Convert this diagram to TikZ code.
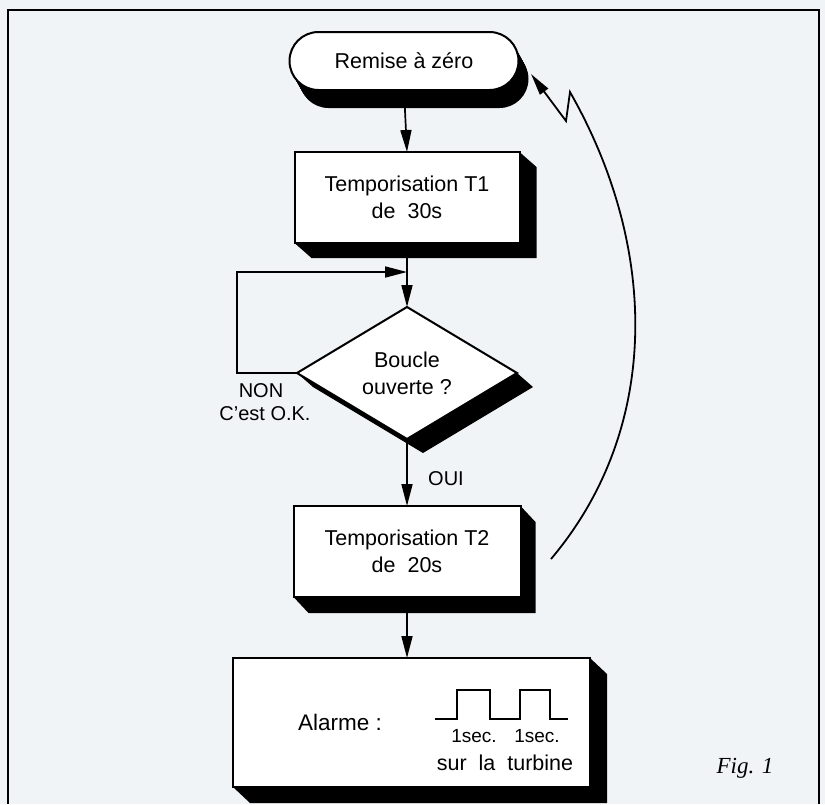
\documentclass[tikz,border=0pt]{standalone}
\usepackage{fontspec}
\setmainfont{Liberation Sans}
\newfontfamily\figfont{Liberation Serif}
\usetikzlibrary{shapes.geometric,arrows.meta,calc,backgrounds}
\definecolor{paper}{RGB}{241,244,246}
\newcommand\boxshade[3]{%
  \fill (#1.north east) -- ($(#1.north east)+(#2,#3)$) -- ($(#1.south east)+(#2,#3)$)
    -- ($(#1.south west)+(#2,#3)$) -- (#1.south west) -- (#1.south east) -- cycle;}
\begin{document}
\begin{tikzpicture}[x=1pt,y=-1pt,
  txt/.style={font=\fontsize{21.5}{27}\selectfont, align=center, inner sep=0pt},
  small/.style={font=\fontsize{20}{24}\selectfont, align=center, inner sep=0pt},
  box/.style={draw, line width=2pt, fill=white, inner sep=0pt, outer sep=0pt,
    font=\fontsize{21.5}{27}\selectfont, align=center},
  arr/.style={line width=1.7pt, -{Triangle[length=22pt,width=11pt]}},
  pulse/.style={line width=1.3pt}
]
\useasboundingbox (0,0) rectangle (825,804);

% nodes
\node[box, rounded corners=29pt, minimum width=229pt, minimum height=58pt] (t) at (404,61) {Remise à zéro};
\node[box, minimum width=225pt, minimum height=91pt] (b1) at (407,197.5) {Temporisation T1\\de~ 30s};
\node[box, diamond, aspect=1.67, minimum width=220pt, minimum height=132pt] (d) at (407,373) {Boucle\\ouverte ?};
\node[box, minimum width=227pt, minimum height=91pt] (b2) at (407,551.5) {Temporisation T2\\de~ 20s};
\node[box, minimum width=357pt, minimum height=129pt] (b3) at (411.5,722.5) {};

% shadows and paper
\begin{scope}[on background layer]
  \fill[paper] (0,0) rectangle (825,804);
  \foreach \k in {0,1,...,18}
    \fill[rounded corners=29pt] ($(t.south west)+(\k*10/18,\k)$) rectangle ($(t.north east)+(\k*10/18,\k)$);
  \boxshade{b1}{17}{15}
  \boxshade{b2}{15}{16}
  \boxshade{b3}{17}{16}
  \fill (d.west) -- ($(d.west)+(16,14)$) -- ($(d.south)+(16,14)$) -- ($(d.east)+(16,14)$)
    -- (d.east) -- (d.south) -- cycle;
\end{scope}

% frame
\draw[line width=2pt] (8,804) -- (8,10) -- (819,10) -- (819,804);

% connectors
\coordinate (j) at (407,272);
\draw[arr] (t.south) -- (b1.north);
\draw[arr] (b1.south) -- (d.north);
\draw[arr] (d.west) -- ++(-60,0) |- (j);
\draw[arr] (d.south) -- (b2.north);
\draw[arr] (b2.south) -- (b2.south |- b3.north);

\coordinate (cs) at (551,559);
\coordinate (ce) at (531,74);
\draw[line width=1.8pt, -{Triangle[length=22pt,width=10pt]}]
  (cs) .. controls (660,430) and (660,250) .. (570,92) -- (566,121) -- (ce);

% labels
\node[small] (non) at (261,391) {NON};
\node[small] (ok) at (265,414) {C’est O.K.};
\node[small] (oui) at (446,479) {OUI};

% alarm contents
\node[font=\fontsize{22.5}{27}\selectfont, inner sep=0pt] (al) at (340,722) {Alarme :};
\draw[pulse] (435,719) -- (457,719) -- (457,690) -- (490,690) -- (490,719)
  -- (520,719) -- (520,690) -- (550,690) -- (550,719) -- (568,719);
\node[font=\fontsize{19}{22}\selectfont, inner sep=0pt] (s1) at (474,736) {1sec.};
\node[font=\fontsize{19}{22}\selectfont, inner sep=0pt] (s2) at (537,736) {1sec.};
\node[txt] (tu) at (505,763) {sur~ la~ turbine};

\node[font=\figfont\itshape\fontsize{23}{28}\selectfont, inner sep=0pt] (fig) at (745,768) {Fig. 1};
\end{tikzpicture}
\end{document}
